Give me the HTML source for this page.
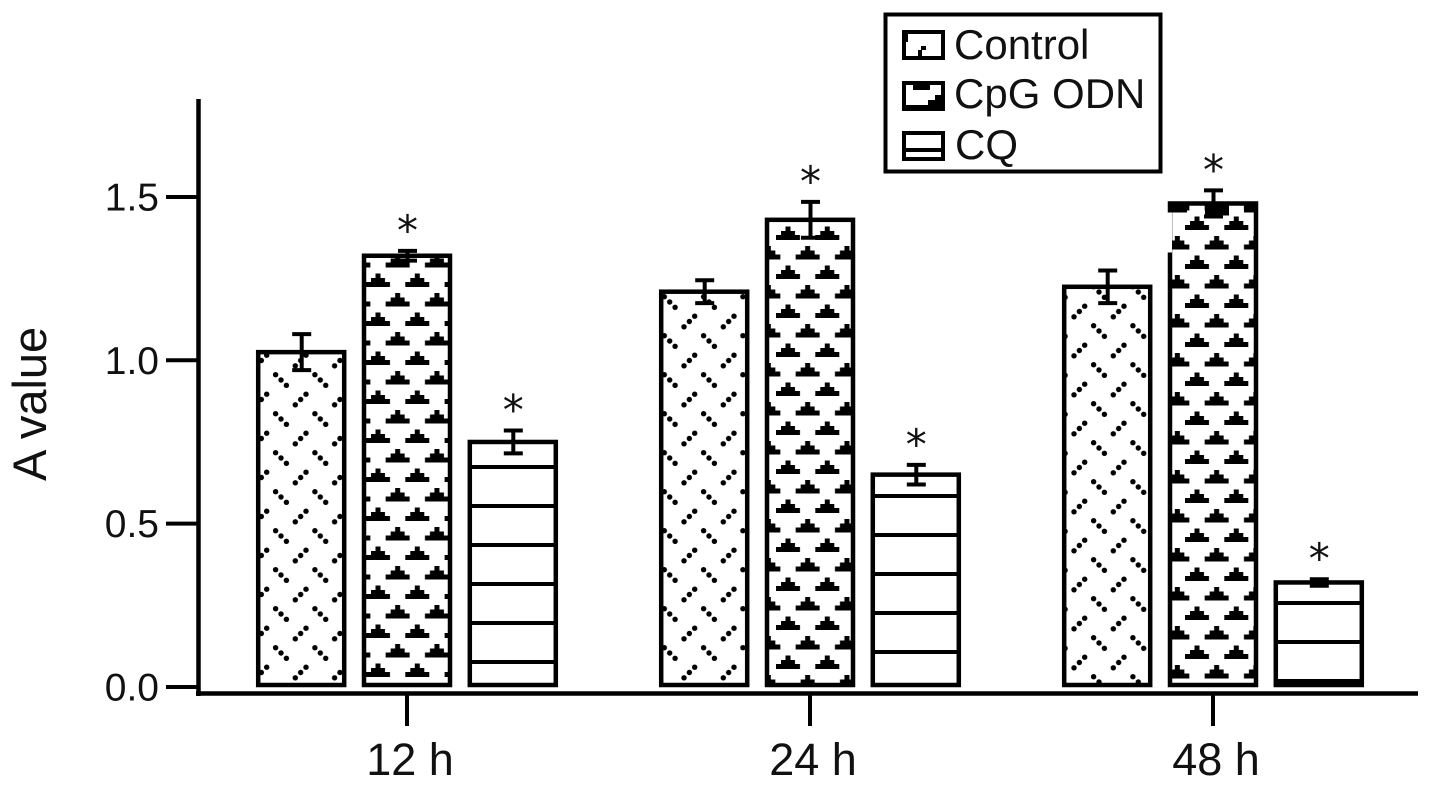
<!DOCTYPE html>
<html lang="en">
<head>
<meta charset="utf-8">
<title>A value by time and treatment</title>
<style>
  html, body { margin: 0; padding: 0; background: #fff; }
  svg { display: block; }
  text { font-family: "Liberation Sans", sans-serif; fill: #111; }
</style>
</head>
<body>
<svg id="chart" xmlns="http://www.w3.org/2000/svg" width="1441" height="788" viewBox="0 0 1441 788">
  <defs>
    <pattern id="dash-tile" width="39.3" height="39" patternUnits="userSpaceOnUse">
      <g fill="#000">
        <circle cx="4.6" cy="4.7" r="2.7"/><circle cx="10" cy="10" r="2.7"/><circle cx="15.4" cy="15.3" r="2.7"/>
        <circle cx="24.3" cy="34.8" r="2.7"/><circle cx="29.65" cy="29.5" r="2.7"/><circle cx="35" cy="24.2" r="2.7"/>
      </g>
    </pattern>
    <pattern id="control-0" href="#dash-tile" patternTransform="translate(271 370)"/>
    <pattern id="control-1" href="#dash-tile" patternTransform="translate(699 331)"/>
    <pattern id="control-2" href="#dash-tile" patternTransform="translate(1089 555)"/>

    <pattern id="tri-tile" width="39.3" height="39" patternUnits="userSpaceOnUse">
      <path fill="#000" d="M0 16V11H5V7H9.5V2.5H14.5V7H19V11H24V16Z"/>
      <path fill="#000" d="M19.65 35.5V30.5H24.65V26.5H29.15V22H34.15V26.5H38.65V30.5H43.65V35.5Z"/>
      <path fill="#000" d="M-19.65 35.5V30.5H-14.65V26.5H-10.15V22H-5.15V26.5H-0.65V30.5H4.35V35.5Z"/>
    </pattern>
    <pattern id="cpg-0" href="#tri-tile" patternTransform="translate(366 271)"/>
    <pattern id="cpg-1" href="#tri-tile" patternTransform="translate(776 224)"/>
    <pattern id="cpg-2" href="#tri-tile" patternTransform="translate(1185 214)"/>

    <pattern id="line-tile" width="10" height="39" patternUnits="userSpaceOnUse">
      <rect x="0" y="8" width="10" height="4" fill="#000"/>
    </pattern>
    <pattern id="cq-0" href="#line-tile" patternTransform="translate(0 652)"/>
    <pattern id="cq-1" href="#line-tile" patternTransform="translate(0 642)"/>
    <pattern id="cq-2" href="#line-tile" patternTransform="translate(0 632)"/>
  </defs>

  <rect x="0" y="0" width="1441" height="788" fill="#fff"/>
  <g id="bars"></g>
  <g id="axes"></g>

  <text transform="translate(46 481) rotate(-90)" font-size="47">A value</text>

  <g>
    <rect x="885.5" y="14.5" width="275" height="157" fill="#fff" stroke="#000" stroke-width="4"/>

    <g>
      <g>
        <rect x="904" y="32" width="39" height="26" fill="#fff" stroke="#000" stroke-width="4"/>
        <rect x="904" y="32" width="4" height="10" fill="#000"/>
        <rect x="921" y="46" width="5" height="4" fill="#000"/>
        <rect x="918" y="50" width="4" height="6" fill="#000"/>
      </g>
      <text x="954" y="59" font-size="42">Control</text>
    </g>

    <g>
      <g>
        <rect x="902" y="81" width="43" height="30" fill="#000"/>
        <polygon fill="#fff" points="906,85 913,85 913,90 930,90 930,85 941,85 941,95 935,95 935,100 928,100 928,105 912,105 906,105"/>
      </g>
      <text x="954" y="108" font-size="42">CpG ODN</text>
    </g>

    <g>
      <g>
        <rect x="904" y="133" width="39" height="26" fill="#fff" stroke="#000" stroke-width="4"/>
        <rect x="904" y="148" width="39" height="4" fill="#000"/>
      </g>
      <text x="955" y="159" font-size="42">CQ</text>
    </g>
  </g>
</svg>

<script>
const categories = ["12 h", "24 h", "48 h"];
const seriesKeys = ["control", "cpg", "cq"];
const controlValues = [1.025, 1.21, 1.225];
const cpgValues = [1.32, 1.43, 1.48];
const cqValues = [0.75, 0.65, 0.32];
const controlErrors = [0.055, 0.035, 0.05];
const cpgErrors = [0.015, 0.055, 0.04];
const cqErrors = [0.035, 0.03, 0.01];
const cpgSignificant = [true, true, true];
const cqSignificant = [true, true, true];
const controlSignificant = [false, false, false];
const yTicks = [0, 0.5, 1, 1.5];
const yTickLabels = ["0.0", "0.5", "1.0", "1.5"];

const seriesValues = [controlValues, cpgValues, cqValues];
const seriesErrors = [controlErrors, cpgErrors, cqErrors];
const seriesSignificant = [controlSignificant, cpgSignificant, cqSignificant];

const NS = "http://www.w3.org/2000/svg";
const barsLayer = document.getElementById("bars");
const axesLayer = document.getElementById("axes");

function yScale(v) { return 687 - 326.7 * v; }
function xBand(i) { return 407 + 403 * i; }
function xBar(i, s) { return xBand(i) + (s - 1) * 105.8; }
const BAR_BASE = 685;
const BAR_HALF = 43;

function make(tag, parent, attrs) {
  const el = document.createElementNS(NS, tag);
  for (const k in attrs) el.setAttribute(k, attrs[k]);
  parent.appendChild(el);
  return el;
}
function line(parent, x1, y1, x2, y2, w) {
  return make("line", parent, { x1: x1, y1: y1, x2: x2, y2: y2, stroke: "#000", "stroke-width": w });
}

/* bars, error bars, significance markers */
categories.forEach(function (cat, i) {
  seriesKeys.forEach(function (key, s) {
    const v = seriesValues[s][i];
    const e = seriesErrors[s][i];
    const cx = xBar(i, s);
    const top = yScale(v);

    const g = make("g", barsLayer, {});
    
    

    const bg = make("rect", g, { x: cx - BAR_HALF, y: top, width: BAR_HALF * 2, height: BAR_BASE - top, fill: "#fff" });
    
    

    const bar = make("rect", g, {
      x: cx - BAR_HALF, y: top, width: BAR_HALF * 2, height: BAR_BASE - top,
      fill: "url(#" + key + "-" + i + ")", stroke: "#000", "stroke-width": 4.5
    });
    
    

    /* scan artifact on the tallest bar: thick top edge, missing upper left edge */
    if (i === 2 && s === 1) {
      const gap = make("rect", g, { x: cx - BAR_HALF - 3, y: top + 9, width: 5, height: 40, fill: "#fff" });
      
      
      const b1 = make("rect", g, { x: cx - BAR_HALF - 1, y: top - 1, width: 18, height: 10, fill: "#000" });
      
      
      const b2 = make("rect", g, { x: cx - 8, y: top - 1, width: 24, height: 13, fill: "#000" });
      
      
      const b3 = make("rect", g, { x: cx + 31, y: top - 1, width: 14, height: 10, fill: "#000" });
      
      
    }

    const ex = cx + 0.5;
    const errTop = yScale(v + e);
    const errBottom = yScale(v - e);

    const eg = make("g", g, {});
    
    
    line(eg, ex, errTop, ex, errBottom, 4);
    line(eg, ex - 9.5, errTop, ex + 9.5, errTop, 4);
    line(eg, ex - 9.5, errBottom, ex + 9.5, errBottom, 4);

    if (seriesSignificant[s][i]) {
      const star = make("text", g, { x: ex, y: errTop - 26 + 20, "font-size": 42, "text-anchor": "middle" });
      star.setAttribute('style', 'font-family:"DejaVu Sans",sans-serif;');
      star.textContent = "*";
      
      
    }
  });
});

/* axes */
const yAxisLine = line(axesLayer, 198.5, 99, 198.5, 696, 4.5);



const xAxisLine = line(axesLayer, 196, 693.5, 1418, 693.5, 4.5);



yTicks.forEach(function (t, k) {
  const y = yScale(t);
  const tick = line(axesLayer, 166, y, 198, y, 4);
  
  
  const label = make("text", axesLayer, { x: 159, y: y + 13.5, "font-size": 39, "text-anchor": "end" });
  label.textContent = yTickLabels[k];
  
  
});

categories.forEach(function (cat, i) {
  const x = xBand(i);
  const tick = line(axesLayer, x, 693, x, 726, 4);
  
  
  const label = make("text", axesLayer, { x: x + 3, y: 775, "font-size": 45, "text-anchor": "middle" });
  label.textContent = cat;
  
  
});
</script>
</body>
</html>
